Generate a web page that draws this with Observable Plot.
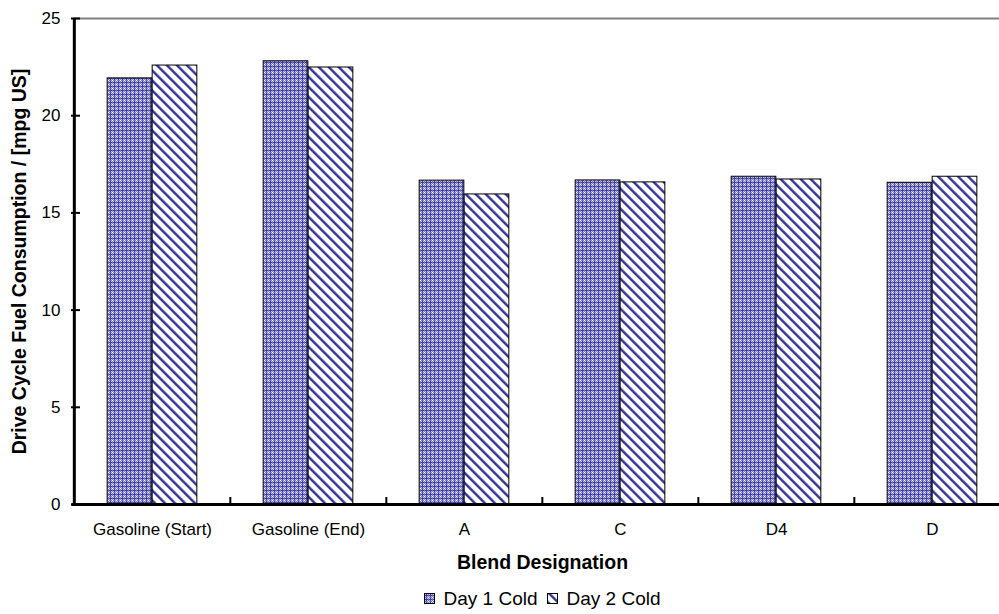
<!DOCTYPE html>
<html>
<head>
<meta charset="utf-8">
<script src="https://cdn.jsdelivr.net/npm/d3@7"></script>
<script src="https://cdn.jsdelivr.net/npm/@observablehq/plot@0.6"></script>
<style>
  html, body { margin: 0; padding: 0; background: #fff; overflow: hidden; }
  #wrap { width: 999px; overflow: hidden; }
  #inner { width: 1011px; font-family: "Liberation Sans", Arial, sans-serif; color: #000; }
  #legend { box-sizing: border-box; width: 1011px; padding-left: 73px; text-align: center; font-size: 19px; line-height: 20px; padding-top: 12px; white-space: nowrap; }
  #legend .item { display: inline-flex; align-items: center; }
  #legend svg { display: inline-block; margin-right: 9px; }
  #legend .item + .item { margin-left: 9px; }
</style>
</head>
<body>
<div id="wrap"><div id="inner"><div id="chart"></div><div id="legend"></div></div></div>
<script>
const categories = ["Gasoline (Start)", "Gasoline (End)", "A", "C", "D4", "D"];
const series = ["Day 1 Cold", "Day 2 Cold"];
const day1 = [21.92, 22.80, 16.66, 16.67, 16.86, 16.55];
const day2 = [22.58, 22.48, 15.95, 16.57, 16.72, 16.86];
const yTicks = [0, 5, 10, 15, 20, 25];
const xTitle = "Blend Designation";
const yTitle = "Drive Cycle Fuel Consumption / [mpg US]";

const data = categories.flatMap((c, i) => [
  {category: c, series: series[0], value: day1[i]},
  {category: c, series: series[1], value: day2[i]}
]);

const W = 1011, H = 576, mL = 73, mR = 0, mT = 18, mB = 72;
const step = (W - mL - mR) / categories.length;
const barW = 45;
const frameH = H - mT - mB;
const frameW = W - mL - mR;

const chart = Plot.plot({
  width: W, height: H,
  marginLeft: mL, marginRight: mR, marginTop: mT, marginBottom: mB,
  style: {fontFamily: '"Liberation Sans", Arial, sans-serif', color: "#000", background: "#fff"},
  x: {domain: categories, padding: 0},
  y: {domain: [0, 25]},
  marks: [
    Plot.ruleY([25], {stroke: "#808080", strokeWidth: 2}),
    Plot.barY(data.filter(d => d.series === series[0]), {
      x: "category", y: "value", fill: "url(#patDay1)", stroke: "#000", strokeWidth: 1,
      insetLeft: step / 2 - barW, insetRight: step / 2
    }),
    Plot.barY(data.filter(d => d.series === series[1]), {
      x: "category", y: "value", fill: "url(#patDay2)", stroke: "#000", strokeWidth: 1,
      insetLeft: step / 2, insetRight: step / 2 - barW
    }),
    Plot.ruleY([0], {stroke: "#000", strokeWidth: 3, insetLeft: -1.5}),
    Plot.ruleX([categories[0]], {dx: -step / 2, stroke: "#000", strokeWidth: 3, insetBottom: -1.5}),
    Plot.ruleY(yTicks, {stroke: "#000", strokeWidth: 2, insetLeft: -2, insetRight: frameW - 7}),
    Plot.ruleX(categories.slice(1), {dx: -step / 2, stroke: "#000", strokeWidth: 2, insetTop: frameH - 7, insetBottom: -2}),
    Plot.axisY({ticks: yTicks, tickSize: 0, tickPadding: 13, fontSize: 17, label: null}),
    Plot.axisX({tickSize: 0, tickPadding: 18, fontSize: 17, label: null}),
    Plot.text([xTitle], {frameAnchor: "bottom", lineAnchor: "middle", textAnchor: "middle", dy: 58, fontSize: 19.5, fontWeight: "bold", fill: "#000"}),
    Plot.text([yTitle], {frameAnchor: "left", lineAnchor: "middle", textAnchor: "middle", dx: -54, rotate: -90, fontSize: 19.5, fontWeight: "bold", fill: "#000"})
  ]
});

const defs = `
<pattern id="patDay1" patternUnits="userSpaceOnUse" width="4" height="4">
  <rect width="4" height="4" fill="#7a7ac4"/>
  <rect x="0" y="0" width="1" height="1" fill="#ffffff"/>
  <rect x="1" y="1" width="1" height="1" fill="#c4c4ea"/>
  <rect x="3" y="1" width="1" height="1" fill="#c4c4ea"/>
  <rect x="1" y="3" width="1" height="1" fill="#c4c4ea"/>
  <rect x="3" y="3" width="1" height="1" fill="#c4c4ea"/>
  <rect x="2" y="1" width="1" height="3" fill="#3a3a9e"/>
  <rect x="1" y="2" width="3" height="1" fill="#3a3a9e"/>
</pattern>
<pattern id="patDay2" patternUnits="userSpaceOnUse" width="7.07" height="7.07" patternTransform="rotate(-45)">
  <rect width="7.07" height="7.07" fill="#ffffff"/>
  <rect x="0" y="0" width="2.4" height="7.07" fill="#333399"/>
</pattern>`;
const ns = "http://www.w3.org/2000/svg";
const defsEl = document.createElementNS(ns, "defs");
defsEl.innerHTML = defs;
chart.insertBefore(defsEl, chart.firstChild);
document.getElementById("chart").appendChild(chart);

const legend = document.getElementById("legend");
series.forEach((s, i) => {
  const item = document.createElement("span");
  item.className = "item";
  item.innerHTML = `<svg width="11" height="11"><rect x="0.5" y="0.5" width="10" height="10" fill="url(#${i === 0 ? "patDay1" : "patDay2"})" stroke="#000" stroke-width="1"/></svg>${s}`;
  legend.appendChild(item);
});
</script>
</body>
</html>
